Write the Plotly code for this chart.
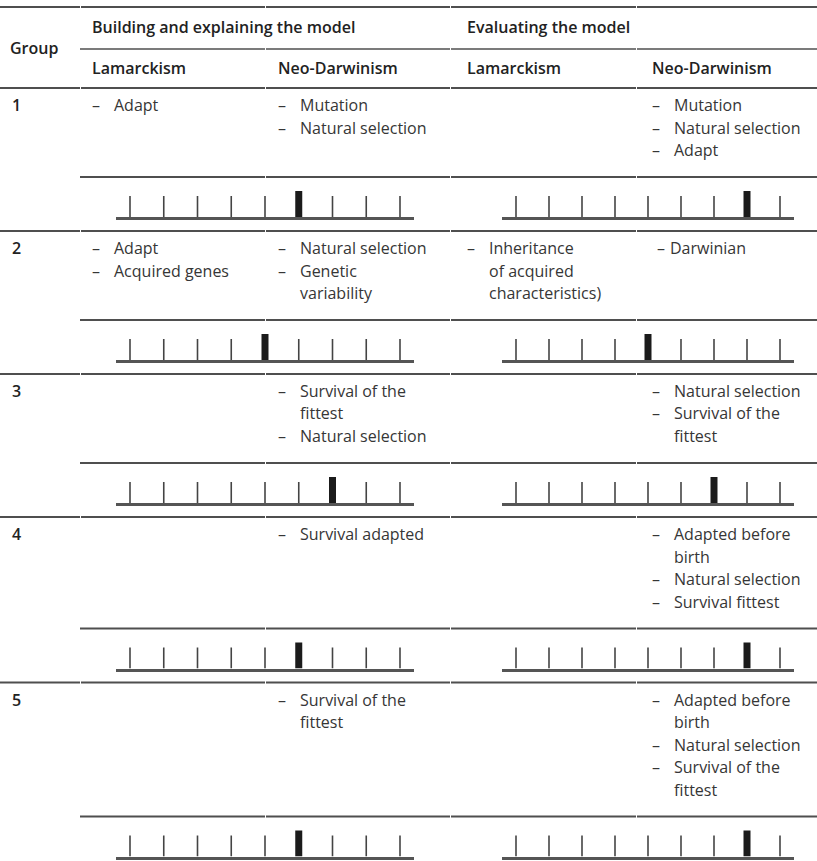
import plotly.graph_objects as go

# ---------------- data ----------------
groups = ["1", "2", "3", "4", "5"]
header_top = ["Building and explaining the model", "Evaluating the model"]
header_sub = ["Lamarckism", "Neo-Darwinism", "Lamarckism", "Neo-Darwinism"]
group_label = "Group"

build_lamarck = [["Adapt"], ["Adapt", "Acquired genes"], [], [], []]
build_neo = [
    ["Mutation", "Natural selection"],
    ["Natural selection", "Genetic\nvariability"],
    ["Survival of the\nfittest", "Natural selection"],
    ["Survival adapted"],
    ["Survival of the\nfittest"],
]
eval_lamarck = [[], ["Inheritance\nof acquired\ncharacteristics)"], [], [], []]
eval_neo = [
    ["Mutation", "Natural selection", "Adapt"],
    ["Darwinian"],
    ["Natural selection", "Survival of the\nfittest"],
    ["Adapted before\nbirth", "Natural selection", "Survival fittest"],
    ["Adapted before\nbirth", "Natural selection", "Survival of the\nfittest"],
]
build_score = [6, 5, 7, 6, 6]
eval_score = [8, 5, 7, 8, 8]
scale_positions = list(range(1, 10))

# ---------------- style ----------------
W, H = 817, 861
FONT = "Open Sans"
TEXT = "#363636"
HEAD = "#222222"
RULE = "#4f4f4f"
TICK = "#444444"
BASE = "#555555"
BAR = "#1b1b1b"
FS = 16
PITCH = 22.5
COL_X = [90, 276, 465, 650]


def px(x):
    return x / W


def py(y):
    return 1 - y / H


annotations = []
shapes = []


def text(x, y, s, weight=400, color=TEXT, size=FS):
    annotations.append(dict(
        x=px(x), y=py(y), xref="paper", yref="paper", text=s, showarrow=False,
        xanchor="left", yanchor="middle",
        font=dict(family=FONT, size=size, color=color, weight=weight)))


def rule(y, x0=0, x1=W, width=1.8):
    cuts = [80, 265, 450, 636]
    pts = [x0] + [c for c in cuts if x0 < c < x1] + [x1]
    for a, b in zip(pts[:-1], pts[1:]):
        shapes.append(dict(type="line", xref="paper", yref="paper",
                           x0=px(a + (1 if a != x0 else 0)), x1=px(b),
                           y0=py(y), y1=py(y),
                           line=dict(color=RULE, width=width)))


# header
rule(7, 0, W)
text(8, 48, group_label, weight=600, color=HEAD)
text(COL_X[0], 27, header_top[0], weight=600, color=HEAD)
text(COL_X[2], 27, header_top[1], weight=600, color=HEAD)
rule(49, 80, W, width=1.4)
for c, s in enumerate(header_sub):
    text(COL_X[c], 68, s, weight=600, color=HEAD)
rule(88, 0, W)

fig = go.Figure()
SCALE_X = [(116, 414), (502, 794)]
TICK_SPAN = [(130, 400), (516, 780)]

top = 88
k = 0
for i in range(len(groups)):
    cells = [build_lamarck[i], build_neo[i], eval_lamarck[i], eval_neo[i]]
    nlines = max(sum(len(it.split("\n")) for it in cell) for cell in cells)
    y0 = top + 17
    text(10, y0, groups[i], weight=600, color=HEAD)
    for c, cell in enumerate(cells):
        line = 0
        single = (len(cell) == 1 and c == 3 and "\n" not in cell[0] and nlines > 1 and i == 1)
        for it in cell:
            parts = it.split("\n")
            dx = COL_X[c] + (5 if single else 0)
            tx = COL_X[c] + (18 if single else 22)
            text(dx, y0 + line * PITCH, "–")
            for pi, part in enumerate(parts):
                text(tx, y0 + (line + pi) * PITCH, part)
            line += len(parts)
    partial = top + 44 + (nlines - 1) * PITCH
    rule(partial, 80, W)
    baseline = partial + 40

    for j, score in enumerate([build_score[i], eval_score[i]]):
        k += 1
        sfx = "" if k == 1 else str(k)
        (bx0, bx1), (tx0, tx1) = SCALE_X[j], TICK_SPAN[j]
        unit = (tx1 - tx0) / (len(scale_positions) - 1)
        xr = [1 - (tx0 - bx0) / unit, len(scale_positions) + (bx1 - tx1) / unit]
        ticks = [p for p in scale_positions if p != score]
        fig.add_trace(go.Bar(x=ticks, y=[1] * len(ticks), width=1.6 / unit,
                             marker=dict(color=TICK, line=dict(width=0)),
                             xaxis="x" + sfx, yaxis="y" + sfx,
                             hoverinfo="skip", showlegend=False))
        fig.add_trace(go.Bar(x=[score], y=[26 / 21], width=7 / unit,
                             marker=dict(color=BAR, line=dict(width=0)),
                             xaxis="x" + sfx, yaxis="y" + sfx,
                             hoverinfo="skip", showlegend=False))
        fig.layout["xaxis" + sfx] = dict(
            domain=[px(bx0), px(bx1)], range=xr, anchor="y" + sfx,
            showline=True, linecolor=BASE, linewidth=3, showgrid=False,
            zeroline=False, showticklabels=False, ticks="", fixedrange=True)
        fig.layout["yaxis" + sfx] = dict(
            domain=[py(baseline), py(baseline - 28)], range=[0, 28 / 21],
            anchor="x" + sfx, visible=False, fixedrange=True)

    top = baseline + 14
    if i < len(groups) - 1:
        rule(top, 0, W)

fig.update_layout(
    width=W, height=H, margin=dict(l=0, r=0, t=0, b=0),
    paper_bgcolor="white", plot_bgcolor="white",
    barmode="overlay", showlegend=False,
    annotations=annotations, shapes=shapes,
)

fig.write_html(
    "out.html",
    config={"displayModeBar": False, "staticPlot": True},
    post_script="document.body.style.margin='0';document.body.style.overflow='hidden';",
)
